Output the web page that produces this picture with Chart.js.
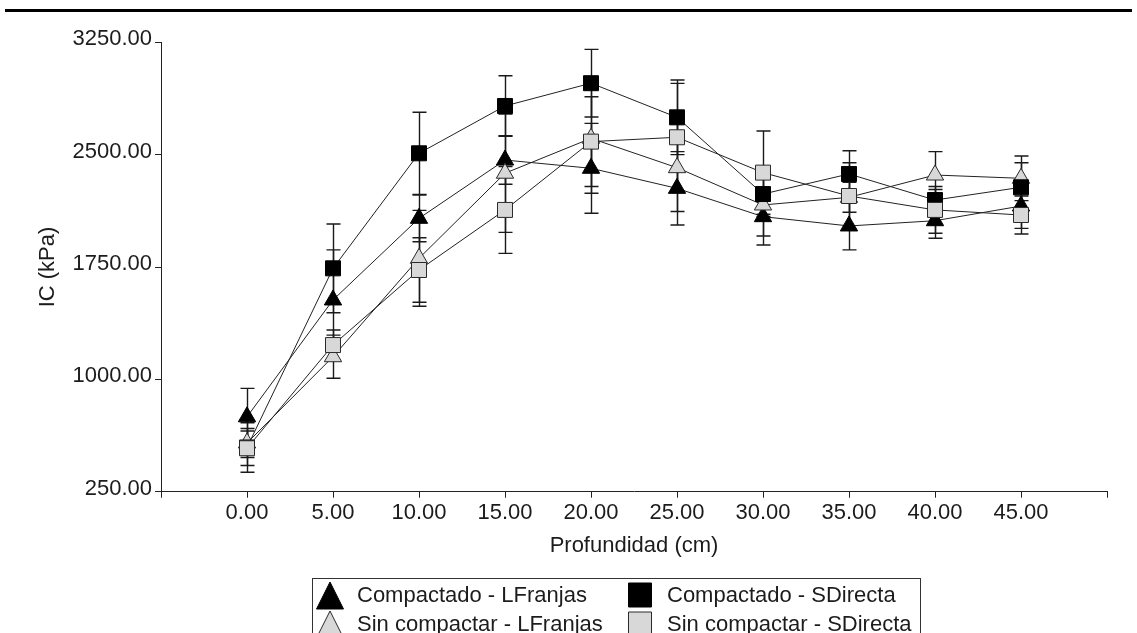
<!DOCTYPE html>
<html>
<head>
<meta charset="utf-8">
<script src="https://cdn.jsdelivr.net/npm/chart.js@4.4.0/dist/chart.umd.min.js"></script>
<style>
  html, body { margin: 0; padding: 0; background: #fff; }
  #wrap { position: relative; width: 1137px; height: 633px; overflow: hidden; }
  #rule { position: absolute; left: 5px; top: 9px; width: 1127px; height: 0; border-top: 3px solid #000; }
  #c { position: absolute; left: 0; top: 0; }
</style>
</head>
<body>
<div id="wrap">
  <div id="rule"></div>
  <canvas id="c" width="1137" height="633"></canvas>
</div>
<script>
// Depth (cm) at which penetration resistance was sampled
const depths = [0, 5, 10, 15, 20, 25, 30, 35, 40, 45];

// Series names
const seriesNames = [
  'Compactado - LFranjas',
  'Compactado - SDirecta',
  'Sin compactar - LFranjas',
  'Sin compactar - SDirecta'
];

// Cone index means (kPa)
const compLFranjas = [750, 1530, 2075, 2464, 2409, 2275, 2086, 2024, 2059, 2157];
const compSDirecta = [545, 1741, 2509, 2825, 2977, 2749, 2237, 2371, 2197, 2282];
const sinLFranjas  = [575, 1151, 1808, 2376, 2609, 2413, 2164, 2215, 2364, 2342];
const sinSDirecta  = [540, 1229, 1730, 2131, 2587, 2616, 2380, 2224, 2131, 2097];

// Error bar half-widths (kPa)
const errCompLFranjas = [190, 334, 156, 162, 300, 245, 189, 160, 117, 149];
const errCompSDirecta = [165, 296, 274, 202, 226, 249, 150, 155,  70, 164];
const errSinLFranjas  = [ 97, 144, 320, 395, 367, 293, 207, 100, 156, 149];
const errSinSDirecta  = [115, 100, 215, 290, 300, 360, 278, 222, 156, 127];

// Axis ticks
const xTickValues = [0, 5, 10, 15, 20, 25, 30, 35, 40, 45];
const yTickValues = [250, 1000, 1750, 2500, 3250];

const FONT = "'Liberation Sans', Arial, sans-serif";
const FONT_SIZE = 22;
const INK = '#1c1c1c';

function toPoints(values) {
  return depths.map((d, i) => ({ x: d, y: values[i] }));
}

const styles = [
  { shape: 'triangle', fill: '#000000', stroke: '#000000', radius: 10 },
  { shape: 'rect',     fill: '#000000', stroke: '#000000', radius: 10.6 },
  { shape: 'triangle', fill: '#d8d8d8', stroke: '#2a2a2a', radius: 10 },
  { shape: 'rect',     fill: '#d8d8d8', stroke: '#2a2a2a', radius: 10.6 }
];
const seriesValues = [compLFranjas, compSDirecta, sinLFranjas, sinSDirecta];
const seriesErrors = [errCompLFranjas, errCompSDirecta, errSinLFranjas, errSinSDirecta];
// drawing order: light squares on top, black triangles at the bottom
const drawOrder = [3, 1, 2, 0];

const datasets = seriesNames.map((name, k) => ({
  label: name,
  data: toPoints(seriesValues[k]),
  errors: seriesErrors[k],
  showLine: true,
  borderColor: '#222',
  borderWidth: 1,
  tension: 0,
  pointStyle: styles[k].shape,
  pointRadius: styles[k].radius,
  pointBackgroundColor: styles[k].fill,
  pointBorderColor: styles[k].stroke,
  pointBorderWidth: 1,
  order: drawOrder[k]
}));

// Vertical error bars with caps, drawn beneath the markers
const errorBars = {
  id: 'errorBars',
  beforeDatasetsDraw(chart) {
    const { ctx, scales: { x, y } } = chart;
    ctx.save();
    ctx.strokeStyle = '#1a1a1a';
    ctx.lineWidth = 1.4;
    chart.data.datasets.forEach(ds => {
      ds.data.forEach((p, i) => {
        const e = ds.errors[i];
        const px = Math.round(x.getPixelForValue(p.x)) + 0.5;
        const top = y.getPixelForValue(p.y + e);
        const bot = y.getPixelForValue(p.y - e);
        ctx.beginPath();
        ctx.moveTo(px, top); ctx.lineTo(px, bot);
        ctx.moveTo(px - 7, top); ctx.lineTo(px + 7, top);
        ctx.moveTo(px - 7, bot); ctx.lineTo(px + 7, bot);
        ctx.stroke();
      });
    });
    ctx.restore();
  }
};

// Boxed two-column legend under the axis title
const boxLegend = {
  id: 'boxLegend',
  afterDraw(chart) {
    const ctx = chart.ctx;
    const box = { left: 312.5, top: 578.5, right: 920.5, bottom: 645 };
    ctx.save();
    ctx.strokeStyle = '#333';
    ctx.lineWidth = 1;
    ctx.strokeRect(box.left, box.top, box.right - box.left, box.bottom - box.top);
    const cols = [{ mark: 330, text: 357 }, { mark: 640, text: 667 }];
    const rows = [595, 624];
    ctx.font = FONT_SIZE + 'px ' + FONT;
    ctx.textBaseline = 'middle';
    ctx.textAlign = 'left';
    seriesNames.forEach((name, k) => {
      const c = cols[k % 2], r = rows[Math.floor(k / 2)];
      const st = styles[k];
      ctx.fillStyle = st.fill;
      ctx.strokeStyle = st.stroke;
      ctx.lineWidth = 1;
      ctx.beginPath();
      if (st.shape === 'triangle') {
        ctx.moveTo(c.mark, r - 13);
        ctx.lineTo(c.mark + 13.5, r + 14);
        ctx.lineTo(c.mark - 13.5, r + 14);
        ctx.closePath();
      } else {
        ctx.rect(c.mark - 11.5, r - 12, 23, 24);
      }
      ctx.fill();
      ctx.stroke();
      ctx.fillStyle = INK;
      ctx.fillText(name, c.text, r + 1);
    });
    ctx.restore();
  }
};

new Chart(document.getElementById('c'), {
  type: 'scatter',
  data: { datasets },
  options: {
    responsive: false,
    animation: false,
    devicePixelRatio: 1,
    layout: { padding: { left: 0, top: 42.3, right: 30, bottom: 71.3 } },
    plugins: { legend: { display: false }, tooltip: { enabled: false } },
    scales: {
      x: {
        type: 'linear',
        min: -5,
        max: 50,
        afterBuildTicks: s => { s.ticks = [-5, ...xTickValues, 50].map(v => ({ value: v })); },
        afterFit: s => { s.height = 70; },
        ticks: {
          autoSkip: false,
          maxRotation: 0,
          padding: 2,
          color: INK,
          font: { family: FONT, size: FONT_SIZE },
          callback: v => xTickValues.includes(v) ? v.toFixed(2) : ''
        },
        grid: { display: true, drawOnChartArea: false, drawTicks: true, tickLength: 6, color: '#222', lineWidth: 1 },
        border: { display: true, color: '#222', width: 1 },
        title: { display: true, text: 'Profundidad (cm)', color: INK, font: { family: FONT, size: FONT_SIZE }, padding: { top: 0, bottom: 3 } }
      },
      y: {
        min: 250,
        max: 3250,
        afterBuildTicks: s => { s.ticks = yTickValues.map(v => ({ value: v })); },
        afterFit: s => { s.width = 161; },
        ticks: {
          padding: 3,
          labelOffset: -3,
          color: INK,
          font: { family: FONT, size: FONT_SIZE },
          callback: v => Number(v).toFixed(2)
        },
        grid: { display: true, drawOnChartArea: false, drawTicks: true, tickLength: 6, color: '#222', lineWidth: 1 },
        border: { display: true, color: '#222', width: 1 },
        title: { display: true, text: 'IC (kPa)', color: INK, font: { family: FONT, size: FONT_SIZE }, padding: { top: 35, bottom: 0 } }
      }
    }
  },
  plugins: [errorBars, boxLegend]
});
</script>
</body>
</html>
